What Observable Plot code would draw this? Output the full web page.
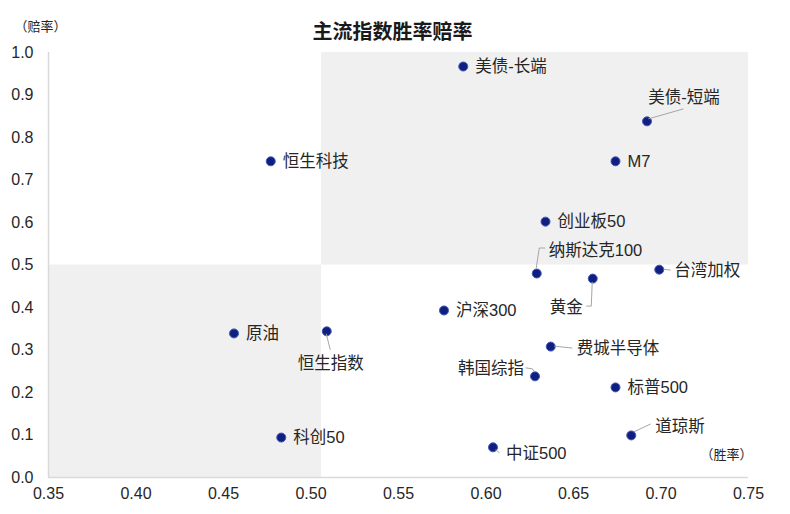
<!DOCTYPE html>
<html>
<head>
<meta charset="utf-8">
<script src="https://cdn.jsdelivr.net/npm/d3@7"></script>
<script src="https://cdn.jsdelivr.net/npm/@observablehq/plot@0.6"></script>
<style>
  html, body { margin: 0; padding: 0; background: #fff; }
  #chart { width: 790px; height: 514px; }
</style>
</head>
<body>
<div id="chart"></div>
<script>
// ---- data ----
const names = ["美债-长端","美债-短端","恒生科技","M7","创业板50","纳斯达克100","黄金","台湾加权","沪深300","原油","恒生指数","费城半导体","韩国综指","标普500","科创50","中证500","道琼斯"];
const winRate = [0.587,0.692,0.477,0.674,0.634,0.629,0.661,0.699,0.576,0.456,0.509,0.637,0.628,0.674,0.483,0.604,0.683];
const oddsRate = [0.967,0.838,0.744,0.744,0.602,0.480,0.468,0.489,0.393,0.339,0.344,0.308,0.238,0.212,0.094,0.071,0.099];
const xTicks = [0.35,0.40,0.45,0.50,0.55,0.60,0.65,0.70,0.75];
const yTicks = [0.0,0.1,0.2,0.3,0.4,0.5,0.6,0.7,0.8,0.9,1.0];
const winThreshold = 0.506;
const oddsThreshold = 0.5;
const title = "主流指数胜率赔率";
const xLabel = "（胜率）";
const yLabel = "（赔率）";

// ---- label layout (pixel offsets from each point) ----
const labelDx = [12,37,12,12,12,12,-10,15,12,12,4,26,-11,12,12,13,24];
const labelDy = [0,-24,0,0,0,-23,29,1,0,0,32,2,-8,0,0,6,-9];
const labelAnchor = ["start","middle","start","start","start","start","end","start","start","start","middle","start","end","start","start","start","start"];
const leaders = [null,[[2,-2],[37,-12]],null,null,null,[[0,-5],[3,-25],[9,-25]],[[0,4],[-1,28],[-6,28]],[[5,0],[12,1]],null,null,[[0,3],[4,19]],[[4,0],[22,2]],[[0,-4],[-2,-7],[-9,-8]],null,null,[[3,3],[7,6]],[[3,-3],[20,-11]]];

const data = names.map((n, i) => ({name: n, x: winRate[i], y: oddsRate[i]}));
const quadrants = [
  {x1: winThreshold, x2: xTicks[xTicks.length - 1], y1: oddsThreshold, y2: yTicks[yTicks.length - 1]},
  {x1: xTicks[0], x2: winThreshold, y1: yTicks[0], y2: oddsThreshold}
];

const FONT = '"Liberation Sans", Arial, "Noto Sans CJK SC", sans-serif';
const textColor = "#262626";

const labelMarks = data.map((d, i) => Plot.text([d], {
  x: "x", y: "y", text: "name",
  dx: labelDx[i], dy: labelDy[i], textAnchor: labelAnchor[i],
  fontSize: 16.5, fill: textColor
}));

const svg = Plot.plot({
  width: 790,
  height: 514,
  marginTop: 52,
  marginBottom: 37,
  marginLeft: 48,
  marginRight: 42,
  style: {fontFamily: FONT, fontSize: "16px", color: textColor, background: "#fff"},
  x: {domain: [0.35, 0.75], ticks: xTicks, tickFormat: d3.format(".2f"), tickSize: 0, tickPadding: 10, label: null},
  y: {domain: [0, 1], ticks: yTicks, tickFormat: d3.format(".1f"), tickSize: 0, tickPadding: 15, label: null},
  marks: [
    Plot.rect(quadrants, {x1: "x1", x2: "x2", y1: "y1", y2: "y2", fill: "#f0f0f0"}),
    Plot.ruleY([0], {stroke: "#d9d9d9", strokeWidth: 1.5}),
    Plot.ruleX([0.35], {stroke: "#d9d9d9", strokeWidth: 1.5}),
    Plot.dot(data, {x: "x", y: "y", r: 4.5, fill: "#0f1f80", stroke: "#4356b8", strokeWidth: 1}),
    ...labelMarks,
    Plot.text([title], {frameAnchor: "top", dx: -6, dy: -28, fontSize: 20, fontWeight: "bold", fill: "#1a1a1a"}),
    Plot.text([yLabel], {frameAnchor: "top-left", dx: -8, dy: -31, textAnchor: "middle", fontSize: 13, fill: textColor}),
    Plot.text([xLabel], {frameAnchor: "bottom-right", dx: -22, dy: -19, textAnchor: "middle", fontSize: 13, fill: textColor})
  ]
});

// leader lines through the plot's own scales
const sx = svg.scale("x"), sy = svg.scale("y");
const g = d3.select(svg).append("g").attr("fill", "none").attr("stroke", "#a6a6a6").attr("stroke-width", 1);
data.forEach((d, i) => {
  const pts = leaders[i];
  if (!pts) return;
  const px = sx.apply(d.x), py = sy.apply(d.y);
  g.append("path").attr("d", d3.line()(pts.map(([a, b]) => [px + a, py + b])));
});

document.getElementById("chart").appendChild(svg);
</script>
</body>
</html>
